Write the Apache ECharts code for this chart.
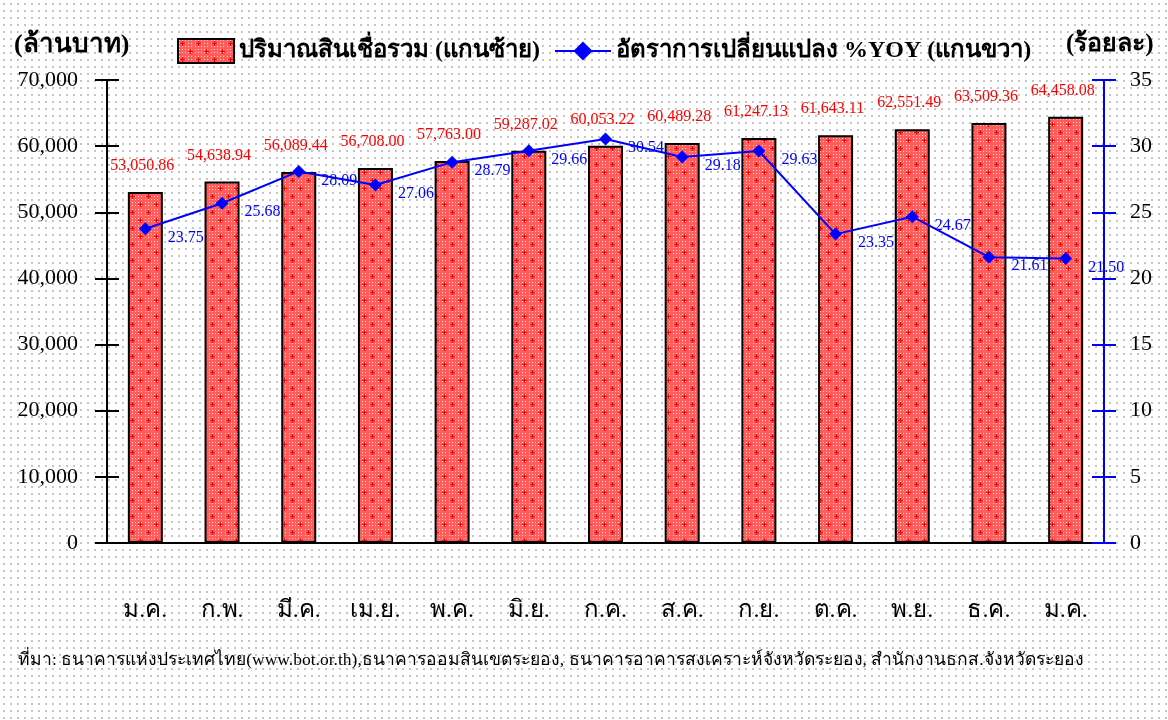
<!DOCTYPE html>
<html><head><meta charset="utf-8">
<script src="https://cdn.jsdelivr.net/npm/echarts@6/dist/echarts.min.js"></script>
<style>html,body{margin:0;padding:0;background:#fff;}#c{width:1168px;height:720px;}</style>
</head><body><div id="c"></div>
<script>
const categories = ['ม.ค.','ก.พ.','มี.ค.','เม.ย.','พ.ค.','มิ.ย.','ก.ค.','ส.ค.','ก.ย.','ต.ค.','พ.ย.','ธ.ค.','ม.ค.'];
const loanValues = [53050.86, 54638.94, 56089.44, 56708.00, 57763.00, 59287.02, 60053.22, 60489.28, 61247.13, 61643.11, 62551.49, 63509.36, 64458.08];
const yoyValues = [23.75, 25.68, 28.09, 27.06, 28.79, 29.66, 30.54, 29.18, 29.63, 23.35, 24.67, 21.61, 21.50];
const barName = 'ปริมาณสินเชื่อรวม (แกนซ้าย)';
const lineName = 'อัตราการเปลี่ยนแปลง %YOY (แกนขวา)';
const leftUnit = '(ล้านบาท)';
const rightUnit = '(ร้อยละ)';
const sourceText = 'ที่มา: ธนาคารแห่งประเทศไทย(www.bot.or.th),ธนาคารออมสินเขตระยอง, ธนาคารอาคารสงเคราะห์จังหวัดระยอง, สำนักงานธกส.จังหวัดระยอง';

const FONT = '"Liberation Serif","Times New Roman",serif';

function bgTile(){
  const c = document.createElement('canvas'); c.width = 7; c.height = 7;
  const g = c.getContext('2d');
  g.fillStyle = '#ffffff'; g.fillRect(0,0,7,7);
  g.fillStyle = '#c4c4c4'; g.fillRect(3,3,2,2);
  return c;
}
function barTile(){
  const c = document.createElement('canvas'); c.width = 16; c.height = 16;
  const g = c.getContext('2d');
  g.fillStyle = '#ff5c5c'; g.fillRect(0,0,16,16);
  g.fillStyle = '#ffd4d4';
  for (let x=1;x<16;x+=3) for (let y=1;y<16;y+=3) g.fillRect(x,y,1,1);
  g.fillStyle = '#ff0000';
  [[4,4],[12,12]].forEach(([x,y])=>{ g.fillRect(x-2,y,5,1); g.fillRect(x,y-2,1,5); });
  return c;
}
const barPattern = {image: barTile(), repeat: 'repeat'};

const chart = echarts.init(document.getElementById('c'), null, {renderer:'canvas'});
const axisFont = {fontFamily: FONT, fontSize: 22, color: '#000'};
const leftMax = 70000, rightMax = 35;
const option = {
  animation: false,
  graphic: [
    {type:'rect', z:-10, silent:true, shape:{x:0,y:0,width:1168,height:720}, style:{fill:{image:bgTile(), repeat:'repeat'}}},
    {type:'text', left: 14, top: 32, style:{text: leftUnit, font: 'bold 26px ' + FONT, fill:'#000'}},
    {type:'text', left: 1066, top: 32, style:{text: rightUnit, font: 'bold 25px ' + FONT, fill:'#000'}},
    {type:'text', left: 18, top: 651, style:{text: sourceText, font: '17.5px ' + FONT, fill:'#000'}}
  ],
  legend: {
    top: 33, left: 172, itemGap: 14, itemWidth: 56, itemHeight: 24,
    textStyle: {fontFamily: FONT, fontSize: 24, fontWeight: 'bold', color:'#000'},
    data: [{name: barName, icon: 'rect'}, {name: lineName}]
  },
  grid: {left: 107, right: 64, top: 80, bottom: 177, containLabel: false},
  xAxis: [
    {type:'category', data: categories, axisLine:{lineStyle:{color:'#000', width:2}},
     axisTick:{length:11, lineStyle:{color:'#000', width:2}},
     axisLabel:{margin: 56, fontFamily: FONT, fontSize: 24, color:'#000'}},
    {type:'category', data: categories, position:'bottom', axisLine:{show:false},
     axisTick:{inside:true, length:11, lineStyle:{color:'#000', width:2}}, axisLabel:{show:false}}
  ],
  yAxis: [
    {type:'value', min:0, max:leftMax, interval:10000, position:'left',
     axisLine:{show:true, lineStyle:{color:'#000', width:2}}, axisTick:{show:true, length:12, lineStyle:{color:'#000', width:2}},
     splitLine:{show:false},
     axisLabel:{margin: 29, ...axisFont, formatter: v => v.toLocaleString('en-US')}},
    {type:'value', min:0, max:rightMax, interval:5, position:'right',
     axisLine:{show:true, lineStyle:{color:'#0000ff', width:2}}, axisTick:{show:true, length:12, lineStyle:{color:'#0000ff', width:2}},
     splitLine:{show:false}, axisLabel:{margin: 26, ...axisFont}},
    {type:'value', min:0, max:leftMax, interval:10000, position:'left',
     axisLine:{show:false}, axisTick:{show:true, inside:true, length:12, lineStyle:{color:'#000', width:2}},
     splitLine:{show:false}, axisLabel:{show:false}},
    {type:'value', min:0, max:rightMax, interval:5, position:'right',
     axisLine:{show:false}, axisTick:{show:true, inside:true, length:12, lineStyle:{color:'#0000ff', width:2}},
     splitLine:{show:false}, axisLabel:{show:false}}
  ],
  series: [
    {name: barName, type:'bar', yAxisIndex:0, data: loanValues, barWidth: 35,
     itemStyle:{color: barPattern, borderColor:'#000', borderWidth:2},
     label:{show:true, position:'top', distance: 18, offset:[-3,0], color:'#ff0000', fontFamily: FONT, fontSize: 16,
       formatter: p => p.value.toLocaleString('en-US',{minimumFractionDigits:2, maximumFractionDigits:2})}},
    {name: lineName, type:'line', yAxisIndex:1, data: yoyValues, symbol:'diamond', symbolSize: 13,
     lineStyle:{color:'#0000ff', width:2}, itemStyle:{color:'#0000ff'},
     label:{show:true, position:'right', distance: 16, offset:[0,9], color:'#0000ff', fontFamily: FONT, fontSize: 16,
       formatter: p => p.value.toFixed(2)}}
  ]
};
chart.setOption(option);
</script></body></html>
